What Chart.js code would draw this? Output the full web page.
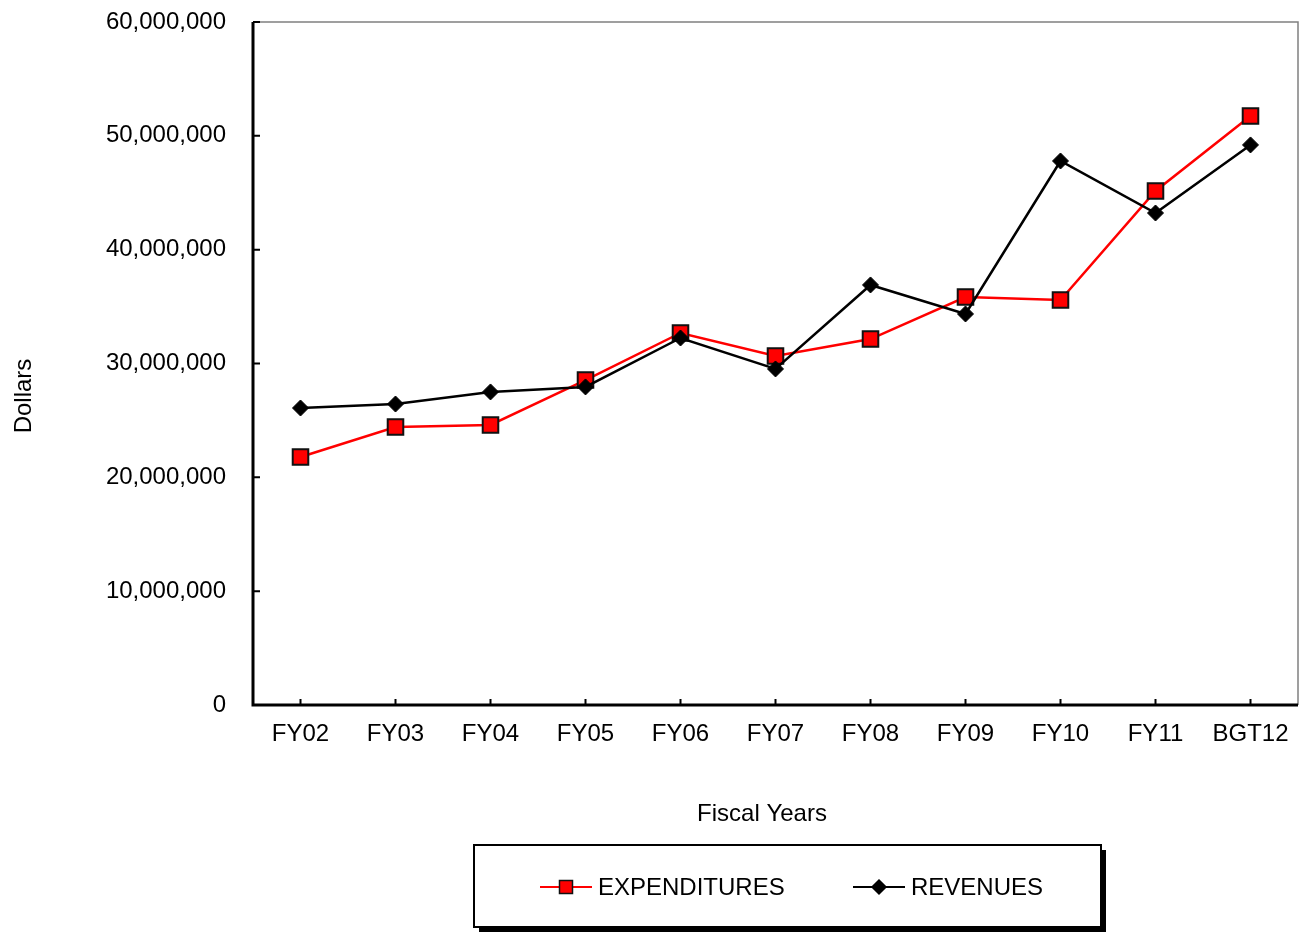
<!DOCTYPE html>
<html>
<head>
<meta charset="utf-8">
<title>Expenditures and Revenues</title>
<script src="https://cdn.jsdelivr.net/npm/chart.js@4"></script>
<style>
  html, body { margin: 0; padding: 0; background: #fff; }
  #wrap { width: 1311px; height: 932px; }
</style>
</head>
<body>
<div id="wrap"><canvas id="lineChart" width="1311" height="932"></canvas></div>
<script>
// fiscal years and dollar totals
const years = ['FY02', 'FY03', 'FY04', 'FY05', 'FY06', 'FY07', 'FY08', 'FY09', 'FY10', 'FY11', 'BGT12'];
const expenditures = [21790000, 24420000, 24600000, 28550000, 32680000, 30660000, 32150000, 35840000, 35580000, 45160000, 51740000];
const revenues = [26090000, 26440000, 27500000, 27940000, 32240000, 29520000, 36900000, 34350000, 47790000, 43220000, 49200000];
const yTicks = [0, 10000000, 20000000, 30000000, 40000000, 50000000, 60000000];

const FONT = '"Liberation Sans", Arial, sans-serif';
const FSIZE = 24;

// frame, inner tick marks, axis titles and boxed legend
const framePlugin = {
  id: 'frame',
  beforeDatasetsDraw(chart) {
    const ctx = chart.ctx;
    const a = chart.chartArea;
    const x = chart.scales.x, y = chart.scales.y;
    ctx.save();
    ctx.strokeStyle = '#808080';
    ctx.lineWidth = 1.5;
    ctx.beginPath();
    ctx.moveTo(a.left, a.top);
    ctx.lineTo(a.right, a.top);
    ctx.lineTo(a.right, a.bottom);
    ctx.stroke();

    ctx.strokeStyle = '#000';
    ctx.lineWidth = 3;
    ctx.beginPath();
    ctx.moveTo(a.left, a.top);
    ctx.lineTo(a.left, a.bottom);
    ctx.lineTo(a.right, a.bottom);
    ctx.stroke();

    ctx.lineWidth = 2;
    ctx.beginPath();
    yTicks.forEach(v => {
      const py = y.getPixelForValue(v);
      ctx.moveTo(a.left, py);
      ctx.lineTo(a.left + 7, py);
    });
    years.forEach((c, i) => {
      const px = x.getPixelForValue(i);
      ctx.moveTo(px, a.bottom);
      ctx.lineTo(px, a.bottom - 6);
    });
    ctx.stroke();
    ctx.restore();
  },
  afterDraw(chart) {
    const ctx = chart.ctx;
    ctx.save();
    ctx.fillStyle = '#000';
    ctx.font = FSIZE + 'px ' + FONT;
    ctx.textAlign = 'center';
    ctx.textBaseline = 'middle';
    ctx.fillText('Fiscal Years', 762, 814);

    ctx.save();
    ctx.translate(24, 396);
    ctx.rotate(-Math.PI / 2);
    ctx.fillText('Dollars', 0, 0);
    ctx.restore();

    // legend box with drop shadow
    const bx = 474, by = 845, bw = 627, bh = 82;
    ctx.fillStyle = '#000';
    ctx.fillRect(bx + 5, by + 5, bw, bh);
    ctx.fillStyle = '#fff';
    ctx.fillRect(bx, by, bw, bh);
    ctx.strokeStyle = '#000';
    ctx.lineWidth = 2;
    ctx.strokeRect(bx, by, bw, bh);

    const itemX = [540, 853];
    const cy = 887;
    chart.data.datasets.forEach((ds, i) => {
      const lx = itemX[i];
      ctx.strokeStyle = ds.borderColor;
      ctx.lineWidth = 2;
      ctx.beginPath();
      ctx.moveTo(lx, cy);
      ctx.lineTo(lx + 52, cy);
      ctx.stroke();
      const mx = lx + 26;
      ctx.fillStyle = ds.pointBackgroundColor;
      ctx.strokeStyle = ds.pointBorderColor;
      ctx.lineWidth = 1.5;
      ctx.beginPath();
      if (ds.pointStyle === 'rect') {
        ctx.rect(mx - 6.5, cy - 6.5, 13, 13);
      } else {
        ctx.moveTo(mx, cy - 7);
        ctx.lineTo(mx + 7, cy);
        ctx.lineTo(mx, cy + 7);
        ctx.lineTo(mx - 7, cy);
        ctx.closePath();
      }
      ctx.fill();
      ctx.stroke();
      ctx.fillStyle = '#000';
      ctx.textAlign = 'left';
      ctx.fillText(ds.label, lx + 58, cy + 1);
    });
    ctx.restore();
  }
};

const data = {
  labels: years,
  datasets: [{
    label: 'EXPENDITURES',
    data: expenditures,
    borderColor: '#ff0000',
    borderWidth: 2.5,
    pointStyle: 'rect',
    pointRadius: 11,
    pointBackgroundColor: '#ff0000',
    pointBorderColor: '#111',
    pointBorderWidth: 2,
    order: 1
  }, {
    label: 'REVENUES',
    data: revenues,
    borderColor: '#000',
    borderWidth: 2.5,
    pointStyle: 'rectRot',
    pointRadius: 8,
    pointBackgroundColor: '#000',
    pointBorderColor: '#000',
    pointBorderWidth: 1,
    order: 0
  }]
};

const config = {
  type: 'line',
  data: data,
  plugins: [framePlugin],
  options: {
    responsive: false,
    animation: false,
    layout: { padding: { top: 22, right: 13, left: 0, bottom: 0 } },
    plugins: {
      legend: { display: false },
      tooltip: { enabled: false }
    },
    elements: { line: { tension: 0 } },
    scales: {
      x: {
        offset: true,
        grid: { display: false, drawTicks: false },
        border: { display: false },
        ticks: {
          color: '#000',
          font: { family: FONT, size: FSIZE },
          padding: 15,
          maxRotation: 0,
          autoSkip: false
        },
        afterFit(scale) { scale.height = 227; }
      },
      y: {
        min: 0,
        max: 60000000,
        // invisible tick marks keep the labels off the axis without adding top padding
        grid: { display: true, drawOnChartArea: false, drawTicks: true, tickLength: 20, color: 'rgba(0,0,0,0)' },
        border: { display: false },
        ticks: {
          stepSize: 10000000,
          color: '#000',
          font: { family: FONT, size: FSIZE },
          padding: 7,
          callback: v => v.toLocaleString('en-US')
        },
        afterFit(scale) { scale.width = 253; }
      }
    }
  }
};

const lineChart = new Chart(document.getElementById('lineChart'), config);
</script>
</body>
</html>
